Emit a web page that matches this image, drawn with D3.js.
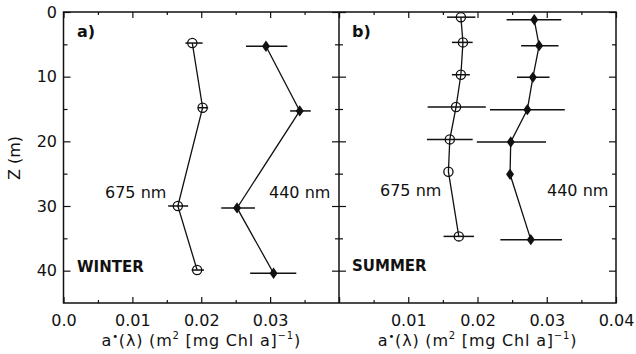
<!DOCTYPE html>
<html>
<head>
<meta charset="utf-8">
<script src="https://cdn.jsdelivr.net/npm/d3@7"></script>
<style>
  body { margin: 0; background: #fff; }
  svg { display: block; }
  text { font-family: "DejaVu Sans", sans-serif; fill: #111; }
</style>
</head>
<body>
<div id="chart"></div>
<script>
// depth ticks (m)
const depthMajor = [0, 10, 20, 30, 40];
const depthMinor = [5, 15, 25, 35];
const xMajor = [0, 0.01, 0.02, 0.03, 0.04];
const xMinor = [0.005, 0.015, 0.025, 0.035];
const xLabelsWinter = ["0.0", "0.01", "0.02", "0.03"];
const xLabelsSummer = ["", "0.01", "0.02", "0.03", "0.04"];

// a) WINTER
const winterZ675 = [4.8, 14.8, 30.0, 39.9];
const winter675 = [0.0187, 0.0202, 0.0166, 0.0194];
const winter675Lo = [0.0177, 0.0195, 0.0152, 0.0186];
const winter675Hi = [0.0202, 0.0210, 0.0181, 0.0204];
const winterZ440 = [5.3, 15.3, 30.3, 40.4];
const winter440 = [0.0294, 0.0343, 0.0252, 0.0305];
const winter440Lo = [0.0265, 0.0329, 0.0229, 0.0271];
const winter440Hi = [0.0325, 0.0359, 0.0278, 0.0338];

// b) SUMMER
const summerZ675 = [0.8, 4.7, 9.7, 14.7, 19.7, 24.7, 34.7];
const summer675 = [0.0176, 0.0179, 0.0176, 0.0169, 0.0160, 0.0158, 0.0173];
const summer675Lo = [0.0156, 0.0163, 0.0163, 0.0128, 0.0127, 0.0158, 0.0151];
const summer675Hi = [0.0197, 0.0193, 0.0189, 0.0212, 0.0193, 0.0158, 0.0195];
const summerZ440 = [1.2, 5.2, 10.1, 15.1, 20.1, 25.1, 35.2];
const summer440 = [0.0282, 0.0289, 0.0280, 0.0272, 0.0248, 0.0247, 0.0277];
const summer440Lo = [0.0242, 0.0263, 0.0257, 0.0218, 0.0199, 0.0247, 0.0233];
const summer440Hi = [0.0321, 0.0317, 0.0304, 0.0326, 0.0299, 0.0247, 0.0322];

const W = 636, H = 354;
const yTop = 12, yBot = 303;
const x0 = 63.5, xm = 339, x1 = 616;

const svg = d3.select("#chart").append("svg")
    .attr("width", W).attr("height", H);
svg.append("rect").attr("width", W).attr("height", H).attr("fill", "#fff");

const y = d3.scaleLinear().domain([0, 45]).range([yTop, yBot]);
const xa = d3.scaleLinear().domain([0, 0.04]).range([x0, xm]);
const xb = d3.scaleLinear().domain([0, 0.04]).range([xm, x1]);

function ticks(g) {
    g.select(".domain").remove();
    g.selectAll("line").attr("stroke", "#111").attr("stroke-width", 1.2);
    g.selectAll("text").attr("font-size", 16).attr("fill", "#111")
        .attr("font-family", "DejaVu Sans");
}

function panel(x, labels, leftAxis) {
    // bottom ticks + labels
    svg.append("g").attr("transform", `translate(0,${yBot})`)
        .call(d3.axisBottom(x).tickValues(xMajor).tickSizeInner(-6).tickSizeOuter(0)
            .tickPadding(12).tickFormat((d, i) => labels[i] || ""))
        .call(ticks);
    svg.append("g").attr("transform", `translate(0,${yBot})`)
        .call(d3.axisBottom(x).tickValues(xMinor).tickSizeInner(-3).tickSizeOuter(0).tickFormat(""))
        .call(ticks);
    // top ticks
    svg.append("g").attr("transform", `translate(0,${yTop})`)
        .call(d3.axisTop(x).tickValues(xMajor).tickSizeInner(-6).tickSizeOuter(0).tickFormat(""))
        .call(ticks);
    svg.append("g").attr("transform", `translate(0,${yTop})`)
        .call(d3.axisTop(x).tickValues(xMinor).tickSizeInner(-3).tickSizeOuter(0).tickFormat(""))
        .call(ticks);
    // side ticks
    const [l, r] = x.range();
    const left = d3.axisLeft(y).tickValues(depthMajor).tickSizeInner(-7).tickSizeOuter(0)
        .tickPadding(6.5);
    if (!leftAxis) left.tickFormat("");
    svg.append("g").attr("transform", `translate(${l},0)`).call(left).call(ticks);
    svg.append("g").attr("transform", `translate(${l},0)`)
        .call(d3.axisLeft(y).tickValues(depthMinor).tickSizeInner(-4).tickSizeOuter(0).tickFormat(""))
        .call(ticks);
    svg.append("g").attr("transform", `translate(${r},0)`)
        .call(d3.axisRight(y).tickValues(depthMajor).tickSizeInner(-7).tickSizeOuter(0).tickFormat(""))
        .call(ticks);
    svg.append("g").attr("transform", `translate(${r},0)`)
        .call(d3.axisRight(y).tickValues(depthMinor).tickSizeInner(-4).tickSizeOuter(0).tickFormat(""))
        .call(ticks);

    // x title
    const t = svg.append("text")
        .attr("x", (l + r) / 2).attr("y", 346)
        .attr("text-anchor", "middle").attr("font-size", 16)
        .attr("letter-spacing", 0.8);
    t.append("tspan").text("a");
    t.append("tspan").attr("font-size", 10).attr("dy", -6).text("•");
    t.append("tspan").attr("dy", 6).text("(λ) (m");
    t.append("tspan").attr("font-size", 10).attr("dy", -7).text("2");
    t.append("tspan").attr("dy", 7).text(" [mg Chl a]");
    t.append("tspan").attr("font-size", 10).attr("dy", -7).text("−1");
    t.append("tspan").attr("dy", 7).text(")");
}

function profile(x, z, v, lo, hi, filled) {
    // error bars
    svg.append("g").selectAll("line").data(z).join("line")
        .attr("x1", (d, i) => x(lo[i])).attr("x2", (d, i) => x(hi[i]))
        .attr("y1", d => y(d)).attr("y2", d => y(d))
        .attr("stroke", "#111").attr("stroke-width", 1.5);
    // connecting line
    svg.append("path")
        .datum(z.map((d, i) => [v[i], d]))
        .attr("fill", "none").attr("stroke", "#111").attr("stroke-width", 1.3)
        .attr("d", d3.line().x(d => x(d[0])).y(d => y(d[1])));
    // markers
    if (filled) {
        svg.append("g").selectAll("path").data(z).join("path")
            .attr("transform", (d, i) => `translate(${x(v[i])},${y(d)}) scale(1.1,0.9)`)
            .attr("d", d3.symbol(d3.symbolDiamond, 46))
            .attr("fill", "#111");
    } else {
        svg.append("g").selectAll("circle").data(z).join("circle")
            .attr("cx", (d, i) => x(v[i])).attr("cy", d => y(d)).attr("r", 4.6)
            .attr("fill", "none").attr("stroke", "#111").attr("stroke-width", 1.3);
    }
}

panel(xa, xLabelsWinter, true);
panel(xb, xLabelsSummer, false);

profile(xa, winterZ675, winter675, winter675Lo, winter675Hi, false);
profile(xa, winterZ440, winter440, winter440Lo, winter440Hi, true);
profile(xb, summerZ675, summer675, summer675Lo, summer675Hi, false);
profile(xb, summerZ440, summer440, summer440Lo, summer440Hi, true);

// frame
svg.append("rect").attr("x", x0).attr("y", yTop)
    .attr("width", x1 - x0).attr("height", yBot - yTop)
    .attr("fill", "none").attr("stroke", "#111").attr("stroke-width", 1.5);
svg.append("line").attr("x1", xm).attr("x2", xm).attr("y1", yTop).attr("y2", yBot)
    .attr("stroke", "#111").attr("stroke-width", 1.5);

// y title
svg.append("text").attr("transform", "translate(14,158) rotate(-90)")
    .attr("text-anchor", "middle").attr("dy", "0.35em").attr("font-size", 16).text("Z (m)");

// panel annotations
const bold = { "font-size": 16, "font-weight": "bold" };
function label(txt, x, yy, opts) {
    const t = svg.append("text").attr("x", x).attr("y", yy).text(txt);
    Object.entries(opts || { "font-size": 16 }).forEach(([k, val]) => t.attr(k, val));
}
label("a)", 77, 37, bold);
label("b)", 352, 37, bold);
label("675 nm", 105, 198);
label("440 nm", 269, 198);
label("675 nm", 380, 196);
label("440 nm", 547, 196);
label("WINTER", 77, 272, { "font-size": 15, "font-weight": "bold", "font-family": "Liberation Sans" });
label("SUMMER", 352, 271, { "font-size": 15, "font-weight": "bold", "font-family": "Liberation Sans" });
</script>
</body>
</html>
